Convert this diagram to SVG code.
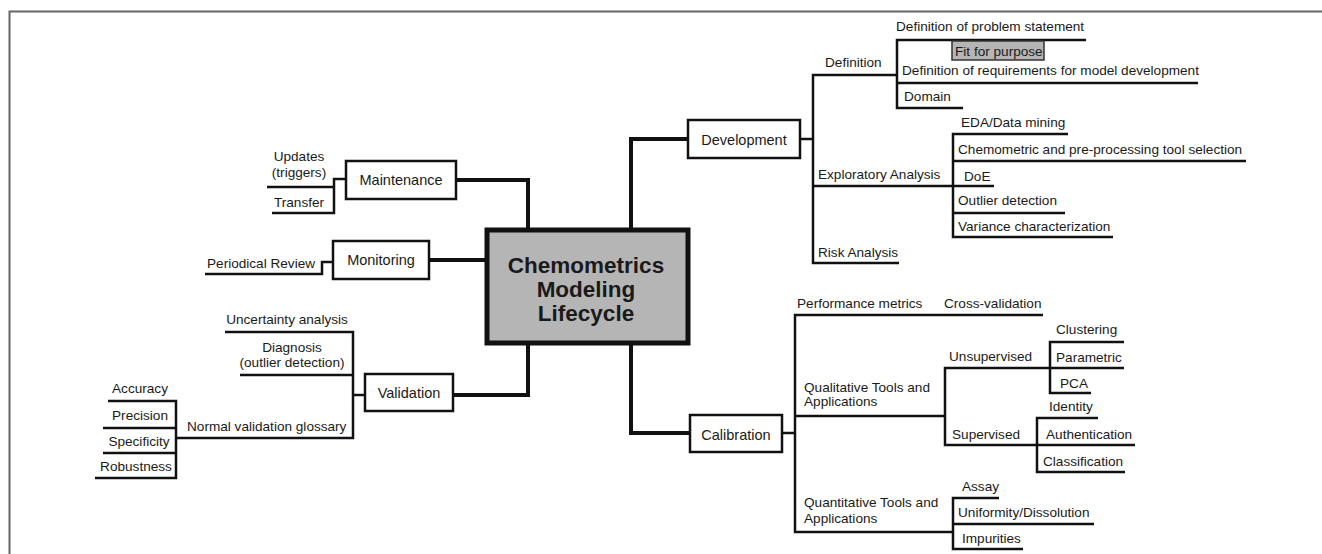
<svg xmlns="http://www.w3.org/2000/svg" width="1322" height="554" viewBox="0 0 1322 554">
<style>
text{font-family:"Liberation Sans",Arial,sans-serif;fill:#1a1a1a}
.t{font-size:13.6px}
.b{font-size:14.5px}
.c{font-size:22.5px;font-weight:bold;text-anchor:middle}
.m{text-anchor:middle}
.box{fill:#fff;stroke:#111;stroke-width:2.5}
.thick{fill:none;stroke:#111;stroke-width:4}
.ln{fill:none;stroke:#111;stroke-width:2.5}
</style>
<rect x="0" y="0" width="1322" height="554" fill="#fff"/>
<path d="M9.5 554 V11.5 H1322" fill="none" stroke="#666" stroke-width="2"/>

<g id="connectors">
  <path class="thick" d="M456 180 H528 V228"/>
  <path class="thick" d="M429 260 H485"/>
  <path class="thick" d="M453 395 H528 V345"/>
  <path class="thick" d="M631 228 V139 H688"/>
  <path class="thick" d="M631 345 V433 H690"/>
  <path class="ln" d="M346 179 H334 V213 H272"/>
  <path class="ln" d="M334 187 H267"/>
  <path class="ln" d="M333 262 H322 V274 H205"/>
  <path class="ln" d="M365 395 H353"/>
  <path class="ln" d="M225 332 H353 V438 H176"/>
  <path class="ln" d="M240 375 H353"/>
  <path class="ln" d="M108 401 H176 V478 H95"/>
  <path class="ln" d="M103 428 H176"/>
  <path class="ln" d="M103 453 H176"/>
  <path class="ln" d="M800 139 H813"/>
  <path class="ln" d="M897 75 H813 V263 H899"/>
  <path class="ln" d="M1086 40 H897 V108 H963"/>
  <path class="ln" d="M897 83 H1198"/>
  <path class="ln" d="M813 186 H994"/>
  <path class="ln" d="M1068 134 H953 V237 H1113"/>
  <path class="ln" d="M953 161 H1246"/>
  <path class="ln" d="M953 213 H1065"/>
  <path class="ln" d="M782 433 H795"/>
  <path class="ln" d="M1043 315 H795 V532 H953"/>
  <path class="ln" d="M795 416 H945"/>
  <path class="ln" d="M1124 368 H945 V445 H1037"/>
  <path class="ln" d="M1124 342 H1050 V393 H1091"/>
  <path class="ln" d="M1098 418 H1037 V472 H1125"/>
  <path class="ln" d="M1037 445 H1135"/>
  <path class="ln" d="M999 498 H953 V549 H1023"/>
  <path class="ln" d="M953 524 H1094"/>
</g>

<g id="center">
  <rect x="487" y="230" width="201" height="113" fill="#b5b5b5" stroke="#111" stroke-width="5"/>
  <text class="c" x="586" y="273">Chemometrics</text>
  <text class="c" x="586" y="297">Modeling</text>
  <text class="c" x="586" y="321">Lifecycle</text>
</g>

<g id="maintenance">
  <rect class="box" x="346" y="161" width="110" height="38"/>
  <text class="b m" x="401" y="185">Maintenance</text>
  <text class="t m" x="299" y="161">Updates</text>
  <text class="t m" x="299" y="177">(triggers)</text>
  <text class="t m" x="299" y="207">Transfer</text>
</g>

<g id="monitoring">
  <rect class="box" x="333" y="241" width="96" height="38"/>
  <text class="b m" x="381" y="265">Monitoring</text>
  <text class="t" x="207" y="268">Periodical Review</text>
</g>

<g id="validation">
  <rect class="box" x="365" y="374" width="88" height="37"/>
  <text class="b m" x="409" y="398">Validation</text>
  <text class="t m" x="287" y="324">Uncertainty analysis</text>
  <text class="t m" x="292" y="352">Diagnosis</text>
  <text class="t m" x="292" y="367">(outlier detection)</text>
  <text class="t" x="187" y="431">Normal validation glossary</text>
  <text class="t m" x="140" y="393">Accuracy</text>
  <text class="t m" x="140" y="420">Precision</text>
  <text class="t m" x="139" y="446">Specificity</text>
  <text class="t m" x="136" y="471">Robustness</text>
</g>

<g id="development">
  <rect class="box" x="688" y="120" width="112" height="38"/>
  <text class="b m" x="744" y="145">Development</text>
  <text class="t" x="825" y="67">Definition</text>
  <text class="t" x="896" y="31">Definition of problem statement</text>
  <rect x="952" y="41" width="92" height="19" fill="#b5b5b5" stroke="#333" stroke-width="1.5"/>
  <text class="t" x="955" y="56">Fit for purpose</text>
  <text class="t" x="902" y="75">Definition of requirements for model development</text>
  <text class="t" x="904" y="101">Domain</text>
  <text class="t" x="818" y="179">Exploratory Analysis</text>
  <text class="t" x="961" y="127">EDA/Data mining</text>
  <text class="t" x="958" y="154">Chemometric and pre-processing tool selection</text>
  <text class="t" x="964" y="181">DoE</text>
  <text class="t" x="958" y="205">Outlier detection</text>
  <text class="t" x="958" y="231">Variance characterization</text>
  <text class="t" x="818" y="257">Risk Analysis</text>
</g>

<g id="calibration">
  <rect class="box" x="690" y="415" width="92" height="37"/>
  <text class="b m" x="736" y="440">Calibration</text>
  <text class="t" x="797" y="308">Performance metrics</text>
  <text class="t" x="944" y="308">Cross-validation</text>
  <text class="t" x="804" y="392">Qualitative Tools and</text>
  <text class="t" x="804" y="406">Applications</text>
  <text class="t" x="949" y="361">Unsupervised</text>
  <text class="t" x="1056" y="334">Clustering</text>
  <text class="t" x="1056" y="362">Parametric</text>
  <text class="t" x="1060" y="388">PCA</text>
  <text class="t" x="952" y="439">Supervised</text>
  <text class="t" x="1049" y="411">Identity</text>
  <text class="t" x="1046" y="439">Authentication</text>
  <text class="t" x="1043" y="466">Classification</text>
  <text class="t" x="804" y="507">Quantitative Tools and</text>
  <text class="t" x="804" y="523">Applications</text>
  <text class="t" x="962" y="491">Assay</text>
  <text class="t" x="958" y="517">Uniformity/Dissolution</text>
  <text class="t" x="962" y="543">Impurities</text>
</g>
</svg>
